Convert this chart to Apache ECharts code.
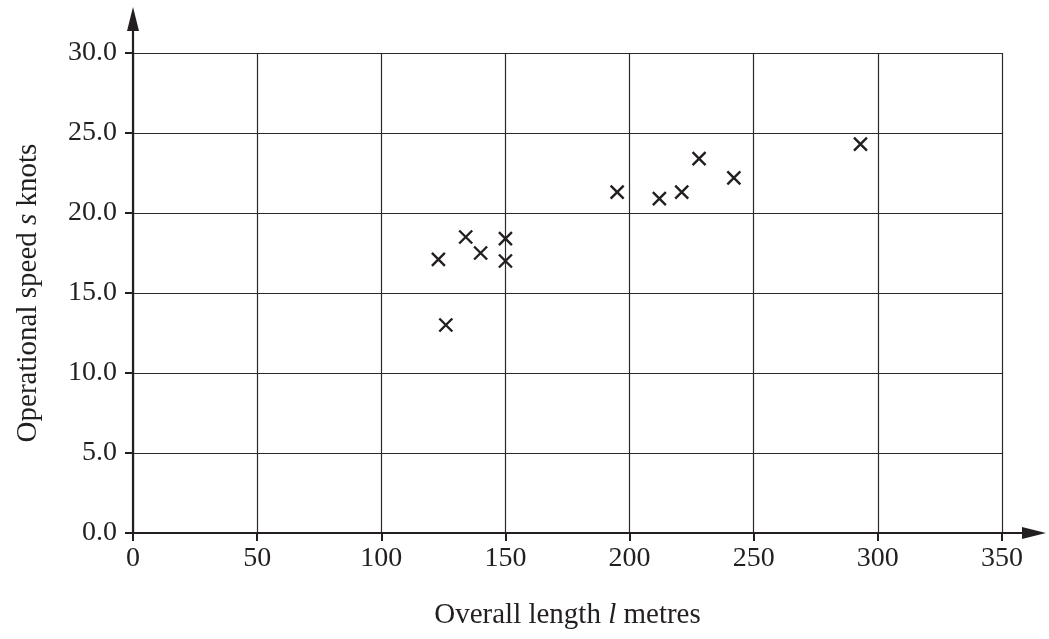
<!DOCTYPE html>
<html>
<head>
<meta charset="utf-8">
<script src="https://cdn.jsdelivr.net/npm/echarts@6/dist/echarts.min.js"></script>
<style>
  html, body { margin: 0; padding: 0; background: #fff; }
  #chart { width: 1049px; height: 639px; }
</style>
</head>
<body>
<div id="chart"></div>
<script>
// overall length l (metres) and operational speed s (knots) of each ship
const lengths = [123, 126, 134, 140, 150, 150, 195, 212, 221, 228, 242, 293];
const speeds = [17.1, 13.0, 18.5, 17.5, 18.4, 17.0, 21.3, 20.9, 21.3, 23.4, 22.2, 24.3];

const xTicks = { min: 0, max: 350, interval: 50 };
const yTicks = { min: 0, max: 30, interval: 5 };

const FONT = '"Liberation Serif", "DejaVu Serif", serif';
const INK = '#231f20';

const points = lengths.map((l, i) => [l, speeds[i]]);

const chart = echarts.init(document.getElementById('chart'), null, { renderer: 'canvas' });

// long axis line with a solid triangle head, used on the helper grid
const arrowLine = {
    show: true, onZero: false,
    symbol: ['none', 'triangle'], symbolSize: [12, 24],
    lineStyle: { color: INK, width: 2.2 }
};

chart.setOption({
    animation: false,
    backgroundColor: '#fff',
    grid: [
        { left: 133, right: 47, top: 53, bottom: 106 },
        // second grid only carries the long arrowed axis lines
        { left: 133, right: 15, top: 19, bottom: 106 }
    ],
    xAxis: [
        {
            type: 'value',
            gridIndex: 0,
            min: xTicks.min, max: xTicks.max, interval: xTicks.interval,
            name: 'Overall length {i|l} metres',
            nameLocation: 'middle',
            nameGap: 68,
            nameTextStyle: {
                fontFamily: FONT, fontSize: 29, color: INK,
                rich: { i: { fontFamily: FONT, fontSize: 29, fontStyle: 'italic', color: INK } }
            },
            axisLine: { show: false },
            axisTick: { show: true, length: 8, inside: false, lineStyle: { color: INK, width: 2 } },
            axisLabel: { fontFamily: FONT, fontSize: 28, color: INK, margin: 12 },
            splitLine: { show: true, lineStyle: { color: '#2a2a2a', width: 1.2 } }
        },
        {
            type: 'value',
            gridIndex: 1,
            min: 0, max: 1,
            axisLine: arrowLine,
            axisTick: { show: false },
            axisLabel: { show: false },
            splitLine: { show: false }
        }
    ],
    yAxis: [
        {
            type: 'value',
            gridIndex: 0,
            min: yTicks.min, max: yTicks.max, interval: yTicks.interval,
            name: 'Operational speed {i|s} knots',
            nameLocation: 'middle',
            nameGap: 90,
            nameRotate: 90,
            nameTextStyle: {
                fontFamily: FONT, fontSize: 29, color: INK,
                rich: { i: { fontFamily: FONT, fontSize: 29, fontStyle: 'italic', color: INK } }
            },
            axisLine: { show: false },
            axisTick: { show: true, length: 8, inside: false, lineStyle: { color: INK, width: 2 } },
            axisLabel: {
                fontFamily: FONT, fontSize: 28, color: INK, margin: 16,
                formatter: v => v.toFixed(1)
            },
            splitLine: { show: true, lineStyle: { color: '#2a2a2a', width: 1.2 } }
        },
        {
            type: 'value',
            gridIndex: 1,
            min: 0, max: 1,
            axisLine: arrowLine,
            axisTick: { show: false },
            axisLabel: { show: false },
            splitLine: { show: false }
        }
    ],
    series: [
        {
            type: 'scatter',
            xAxisIndex: 0,
            yAxisIndex: 0,
            data: points,
            symbol: 'path://M0,0L10,10M10,0L0,10',
            symbolSize: 13,
            itemStyle: { color: 'none', borderColor: INK, borderWidth: 2.4, opacity: 1 },
            emphasis: { disabled: true },
            z: 5
        }
    ]
});
</script>
</body>
</html>
